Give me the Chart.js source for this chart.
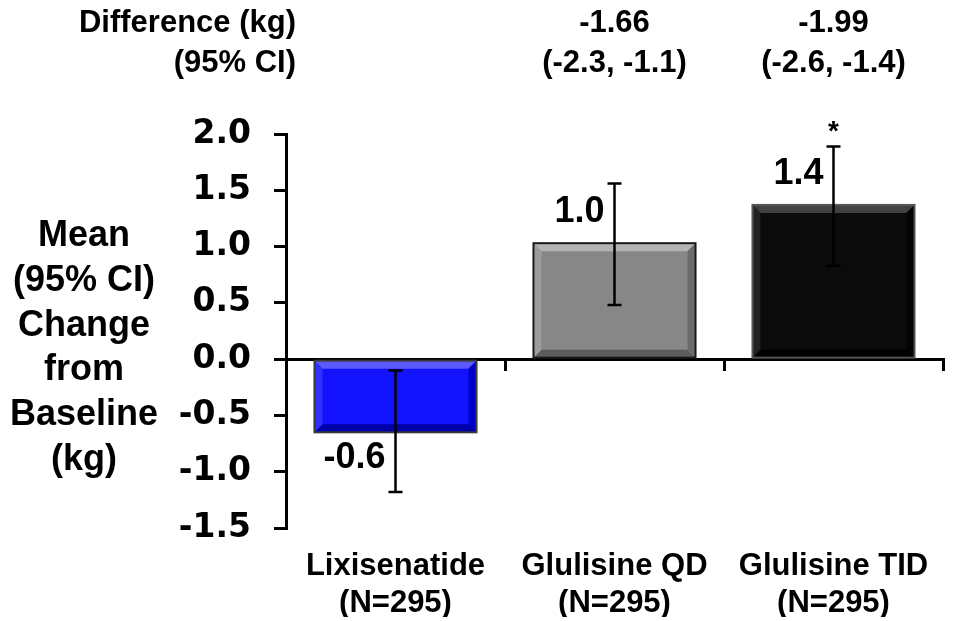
<!DOCTYPE html>
<html><head><meta charset="utf-8">
<script src="https://cdn.jsdelivr.net/npm/chart.js@4.4.1/dist/chart.umd.min.js"></script>
<style>html,body{margin:0;padding:0;background:#fff;overflow:hidden}#wrap{width:956px;height:621px}</style>
</head><body><div id="wrap"><canvas id="c" width="956" height="621"></canvas></div>
<script>
// ---- data ----
const categories = [["Lixisenatide","(N=295)"],["Glulisine QD","(N=295)"],["Glulisine TID","(N=295)"]];
const meanChange = [-0.65, 1.03, 1.37];
const ciLow = [-1.18, 0.48, 0.83];
const ciHigh = [-0.10, 1.56, 1.89];
const valueLabels = ["-0.6", "1.0", "1.4"];
const diffLabels = ["", "-1.66", "-1.99"];
const diffCI = ["", "(-2.3, -1.1)", "(-2.6, -1.4)"];
const significance = ["", "", "*"];
const yTicks = [-1.5, -1.0, -0.5, 0.0, 0.5, 1.0, 1.5, 2.0];
const yTitleLines = ["Mean", "(95% CI)", "Change", "from", "Baseline", "(kg)"];
const headerTitle = ["Difference (kg)", "(95% CI)"];

// ---- styles ----
const barStyles = [
  {face:'#1212ff', top:'#5a5aff', left:'#3030ff', right:'#0000c8', bottom:'#0000a8', line:'#3a3a3a'},
  {face:'#878787', top:'#b4b4b4', left:'#9c9c9c', right:'#6c6c6c', bottom:'#5c5c5c', line:'#1a1a1a'},
  {face:'#0b0b0b', top:'#414141', left:'#222222', right:'#030303', bottom:'#000000', line:'#555555'}
];
const BOLD = 'bold';
const SANS = '"Liberation Sans", Arial, sans-serif';

function poly(ctx, pts, col){
  ctx.beginPath(); ctx.moveTo(pts[0][0], pts[0][1]);
  for (let i=1;i<pts.length;i++) ctx.lineTo(pts[i][0], pts[i][1]);
  ctx.closePath(); ctx.fillStyle = col; ctx.fill();
}

const decor = {
  id: 'decor',
  afterDatasetsDraw(chart){
    const ctx = chart.ctx, meta = chart.getDatasetMeta(0), ys = chart.scales.y;
    meta.data.forEach((bar, i) => {
      const p = bar.getProps(['x','y','base','width'], true);
      const l = p.x - p.width/2, r = p.x + p.width/2;
      const t = Math.min(p.y, p.base), b = Math.max(p.y, p.base);
      const s = 8, st = barStyles[i];
      ctx.save();
      poly(ctx, [[l,t],[r,t],[r-s,t+s],[l+s,t+s]], st.top);
      poly(ctx, [[l,b],[r,b],[r-s,b-s],[l+s,b-s]], st.bottom);
      poly(ctx, [[l,t],[l+s,t+s],[l+s,b-s],[l,b]], st.left);
      poly(ctx, [[r,t],[r-s,t+s],[r-s,b-s],[r,b]], st.right);
      ctx.strokeStyle = st.line; ctx.lineWidth = 2;
      ctx.strokeRect(l, t, r-l, b-t);
      // error bar
      const yh = ys.getPixelForValue(ciHigh[i]), yl = ys.getPixelForValue(ciLow[i]);
      ctx.strokeStyle = '#000'; ctx.lineWidth = 2.5;
      ctx.beginPath();
      ctx.moveTo(p.x, yh); ctx.lineTo(p.x, yl);
      ctx.moveTo(p.x-7, yh); ctx.lineTo(p.x+7, yh);
      ctx.moveTo(p.x-7, yl); ctx.lineTo(p.x+7, yl);
      ctx.stroke();
      // value label
      ctx.fillStyle = '#000';
      ctx.font = BOLD + ' 36px ' + SANS;
      ctx.textAlign = 'right'; ctx.textBaseline = 'middle';
      const ly = meanChange[i] < 0 ? b + 26 : t - 31;
      ctx.fillText(valueLabels[i], p.x - 10, ly);
      if (significance[i]) {
        ctx.font = BOLD + ' 28px ' + SANS;
        ctx.textAlign = 'center';
        ctx.fillText(significance[i], p.x, yh - 14);
      }
      ctx.restore();
    });
  },
  afterDraw(chart){
    const ctx = chart.ctx, ca = chart.chartArea, xs = chart.scales.x;
    ctx.save();
    ctx.fillStyle = '#000';
    ctx.textBaseline = 'middle';
    ctx.font = BOLD + ' 31px ' + SANS;
    ctx.textAlign = 'right';
    ctx.fillText(headerTitle[0], ca.left + 10, 23);
    ctx.fillText(headerTitle[1], ca.left + 10, 63);
    ctx.textAlign = 'center';
    diffLabels.forEach((t, i) => {
      if (!t) return;
      const x = xs.getPixelForValue(i);
      ctx.fillText(t, x, 23);
      ctx.fillText(diffCI[i], x, 63);
    });
    // y title
    ctx.font = BOLD + ' 36px ' + SANS;
    const cy = (ca.top + ca.bottom)/2 + 17, lh = 44.8;
    const y0 = cy - lh*(yTitleLines.length-1)/2;
    yTitleLines.forEach((t, i) => ctx.fillText(t, 84, y0 + i*lh));
    ctx.restore();
  }
};

new Chart(document.getElementById('c'), {
  type: 'bar',
  data: {
    labels: categories,
    datasets: [{
      data: meanChange,
      backgroundColor: barStyles.map(s => s.face),
      borderWidth: 0,
      barPercentage: 0.74,
      categoryPercentage: 1.0
    }]
  },
  options: {
    responsive: false, animation: false, devicePixelRatio: 1,
    layout: {padding: {left: 176, top: 134, right: 13, bottom: 4}},
    plugins: {legend: {display: false}, tooltip: {enabled: false}},
    scales: {
      x: {
        position: 'bottom',
        afterFit: s => { s.height = 89; },
        grid: {display: false, drawTicks: false},
        border: {display: false},
        ticks: {color: '#000', font: {family: SANS, weight: BOLD, size: 31, lineHeight: 1.2}, padding: 20, maxRotation: 0, autoSkip: false}
      },
      xZero: {
        type: 'category', labels: categories, position: {y: 0}, offset: true,
        grid: {offset: true, drawOnChartArea: false, drawTicks: true, tickLength: 10, color: '#000', lineWidth: 3},
        border: {display: true, color: '#000', width: 3},
        ticks: {display: false}
      },
      y: {
        min: -1.5, max: 2.0,
        afterBuildTicks: s => { s.ticks = yTicks.map(v => ({value: v})); },
        afterFit: s => { s.width = 110; },
        ticks: {callback: v => Number(v).toFixed(1), color: '#000', font: {family: '"DejaVu Sans", sans-serif', weight: BOLD, size: 33}, padding: 23},
        grid: {drawOnChartArea: false, tickLength: 12, color: '#000', lineWidth: 3},
        border: {color: '#000', width: 3}
      }
    }
  },
  plugins: [decor]
});
</script></body></html>
